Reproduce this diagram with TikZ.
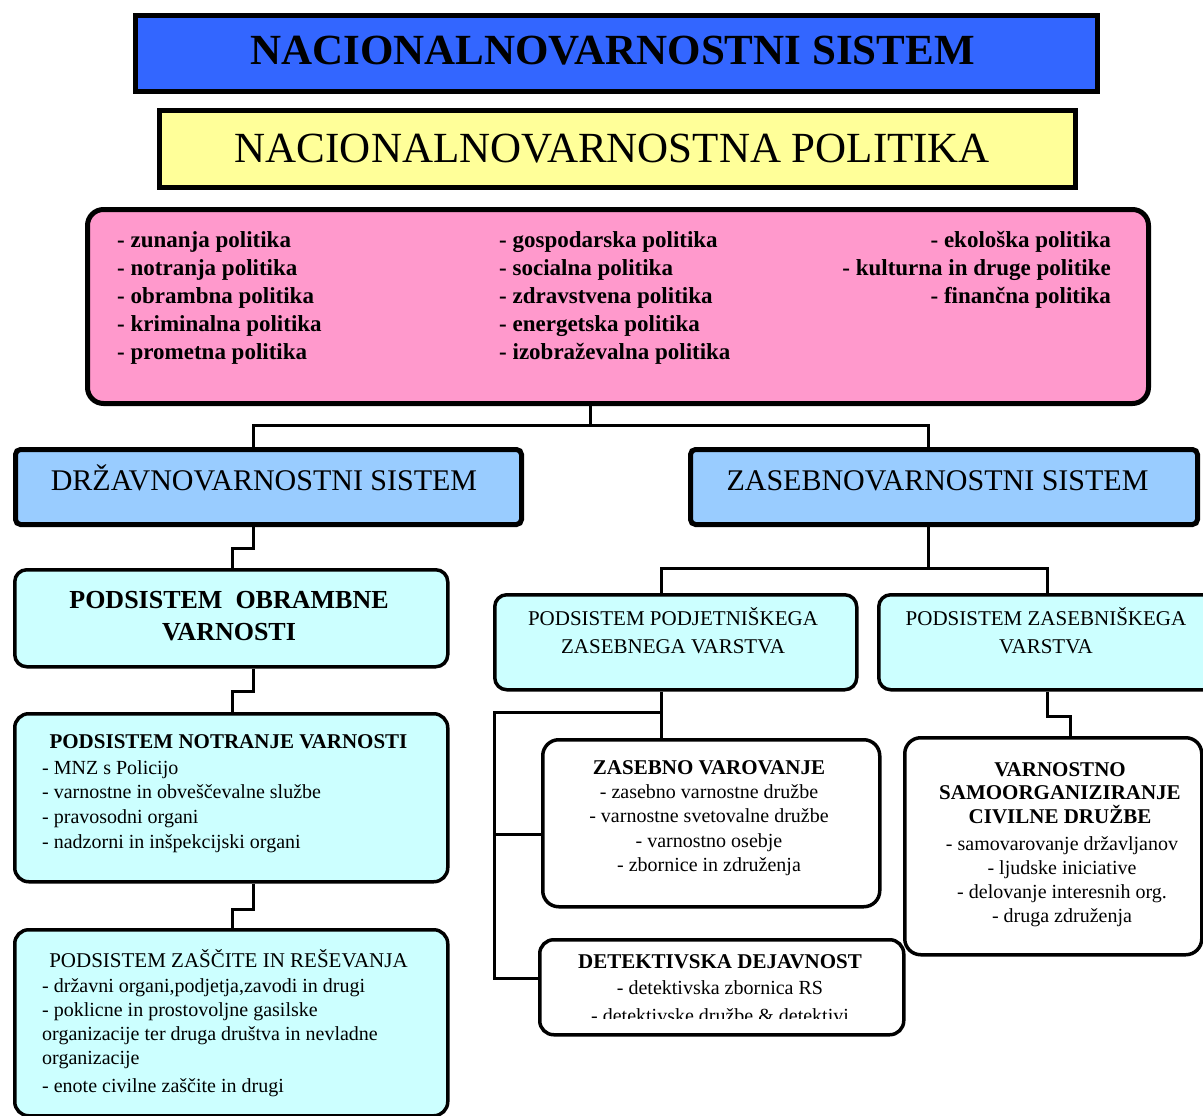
\documentclass[tikz,border=0pt]{standalone}
\usepackage{fontspec}
\setmainfont{Liberation Serif}
\definecolor{tblue}{HTML}{3366FF}
\definecolor{tyellow}{HTML}{FFFF99}
\definecolor{tpink}{HTML}{FF99CC}
\definecolor{tlblue}{HTML}{99CCFF}
\definecolor{tcyan}{HTML}{CCFFFF}
\begin{document}
\begin{tikzpicture}[x=1pt,y=-1pt,
  box/.style={draw=black, rectangle, inner sep=0pt, anchor=north west},
  heavy/.style={box, line width=5pt},
  light/.style={box, line width=3.5pt},
  conn/.style={line width=3pt},
  txt/.style={inner sep=0pt, anchor=north, align=center},
  ltxt/.style={inner sep=0pt, anchor=north west, align=left},
  btxt/.style={inner sep=0pt, anchor=base}]
\useasboundingbox (0,0) rectangle (1203,1116);
\clip (0,0) rectangle (1203,1116);
\fill[white] (0,0) rectangle (1203,1116);

% boxes
\node[heavy, fill=tblue, minimum width=962pt, minimum height=76pt] (title) at (133,13) {};
\node[heavy, fill=tyellow, minimum width=916pt, minimum height=77pt] (pol) at (157,108) {};
\node[heavy, fill=tpink, rounded corners=16pt, minimum width=1061pt, minimum height=194pt] (pink) at (85,207) {};
\node[heavy, fill=tlblue, rounded corners=5pt, minimum width=506pt, minimum height=75pt] (drz) at (13,447) {};
\node[heavy, fill=tlblue, rounded corners=5pt, minimum width=507pt, minimum height=75pt] (zas) at (688,447) {};
\node[light, fill=tcyan, rounded corners=12pt, minimum width=433pt, minimum height=97pt] (obr) at (13,568) {};
\node[light, fill=tcyan, rounded corners=14pt, minimum width=433pt, minimum height=168pt] (notr) at (13,712) {};
\node[light, fill=tcyan, rounded corners=14pt, minimum width=433pt, minimum height=186pt] (zsc) at (13,928) {};
\node[light, fill=tcyan, rounded corners=12pt, minimum width=362pt, minimum height=95pt] (podj) at (493,593) {};
\node[light, fill=tcyan, rounded corners=12pt, minimum width=343pt, minimum height=95pt] (zasb) at (877,593) {};
\node[light, fill=white, rounded corners=16pt, minimum width=337pt, minimum height=167pt] (varo) at (541,738) {};
\node[light, fill=white, rounded corners=14pt, minimum width=364pt, minimum height=95pt] (detek) at (538,938) {};
\node[light, fill=white, rounded corners=16pt, minimum width=297pt, minimum height=217pt] (vsc) at (903,736) {};

% connector coordinates
\coordinate (xL) at (253,0);
\coordinate (xM) at (232,0);
\coordinate (j1) at (590,425);
\coordinate (xR) at (928,0);
\coordinate (r1) at (928,568);
\coordinate (xP) at (661,0);
\coordinate (xZ) at (1047,0);
\coordinate (xZ2) at (1070,0);
\coordinate (q1) at (494,712);
\coordinate (q2) at (494,834);
\coordinate (q3) at (494,978);

% connectors
\draw[conn] (pink.south -| j1) -- (j1);
\draw[conn] (xL |- drz.north) |- (j1) -| (xR |- zas.north);
\draw[conn] (drz.south -| xL) -- ++(0,21) -| (xM |- obr.north);
\draw[conn] (obr.south -| xL) -- ++(0,23) -| (xM |- notr.north);
\draw[conn] (notr.south -| xL) -- ++(0,26) -| (xM |- zsc.north);
\draw[conn] (zas.south -| xR) -- (r1);
\draw[conn] (xP |- podj.north) |- (r1) -| (xZ |- zasb.north);
\draw[conn] (podj.south -| xP) -- (xP |- varo.north);
\draw[conn] (xP |- q1) -| (q3) -- (q3 -| detek.west);
\draw[conn] (q2) -- (q2 -| varo.west);
\draw[conn] (zasb.south -| xZ) -- ++(0,25) -| (xZ2 |- vsc.north);

% texts
\node[btxt, font=\bfseries\fontsize{43}{50}\selectfont] (titlet) at (612.5,65) {NACIONALNOVARNOSTNI SISTEM};
\node[btxt, font=\fontsize{43}{50}\selectfont] (polt) at (612.5,162) {NACIONALNOVARNOSTNA POLITIKA};

\node[ltxt, font=\bfseries\fontsize{23}{28}\selectfont] (c1) at (117,227.4)
  {\strut- zunanja politika\\- notranja politika\\- obrambna politika\\- kriminalna politika\\- prometna politika};
\node[ltxt, font=\bfseries\fontsize{23}{28}\selectfont] (c2) at (499,227.4)
  {\strut- gospodarska politika\\- socialna politika\\- zdravstvena politika\\- energetska politika\\- izobraževalna politika};
\node[inner sep=0pt, anchor=north east, align=right, font=\bfseries\fontsize{23}{28}\selectfont] (c3) at (1111,227.4)
  {\strut- ekološka politika\\- kulturna in druge politike\\- finančna politika};

\node[btxt, font=\fontsize{30}{36}\selectfont] (drzt) at (264,490) {DRŽAVNOVARNOSTNI SISTEM};
\node[btxt, font=\fontsize{30}{36}\selectfont] (zast) at (937.5,490) {ZASEBNOVARNOSTNI SISTEM};

\node[txt, font=\bfseries\fontsize{26}{32}\selectfont] (obrt) at (229,585.6) {\strut PODSISTEM\ \ OBRAMBNE\\VARNOSTI};

\node[btxt, font=\bfseries\fontsize{21}{25}\selectfont] (notrt) at (228.5,748) {PODSISTEM NOTRANJE VARNOSTI};
\node[ltxt, font=\fontsize{20}{24.7}\selectfont] (notri) at (42,756.7)
  {\strut- MNZ s Policijo\\- varnostne in obveščevalne službe\\- pravosodni organi\\- nadzorni in inšpekcijski organi};

\node[btxt, font=\fontsize{21}{25}\selectfont] (zsct) at (228.5,967) {PODSISTEM ZAŠČITE IN REŠEVANJA};
\node[ltxt, font=\fontsize{20}{24}\selectfont] (zsci) at (42,975.2)
  {\strut- državni organi,podjetja,zavodi in drugi\\- poklicne in prostovoljne gasilske\\organizacije ter druga društva in nevladne\\organizacije\\[4pt]- enote civilne zaščite in drugi};

\node[txt, font=\fontsize{21}{28}\selectfont] (podjt) at (673,605.4) {\strut PODSISTEM PODJETNIŠKEGA\\ZASEBNEGA VARSTVA};
\node[txt, font=\fontsize{21}{28}\selectfont] (zasbt) at (1046,605.4) {\strut PODSISTEM ZASEBNIŠKEGA\\VARSTVA};

\node[txt, font=\fontsize{20}{24.3}\selectfont] (varot) at (709,757)
  {\strut{\bfseries\fontsize{21}{24.3}\selectfont ZASEBNO VAROVANJE}\\- zasebno varnostne družbe\\- varnostne svetovalne družbe\\- varnostno osebje\\- zbornice in združenja};

\begin{scope}
\clip (540,940) rectangle (900,1018);
\node[txt, font=\fontsize{20}{26}\selectfont] (detekt) at (720,949.8)
  {\strut{\bfseries\fontsize{21}{26}\selectfont DETEKTIVSKA DEJAVNOST}\\- detektivska zbornica RS\\[2pt]- detektivske družbe \& detektivi};
\end{scope}

\node[txt, font=\bfseries\fontsize{21}{23.5}\selectfont] (vsct) at (1060,759.5) {\strut VARNOSTNO\\SAMOORGANIZIRANJE\\CIVILNE DRUŽBE};
\node[txt, font=\fontsize{20}{24}\selectfont] (vsci) at (1062,833.2)
  {\strut- samovarovanje državljanov\\- ljudske iniciative\\- delovanje interesnih org.\\- druga združenja};
\end{tikzpicture}
\end{document}
